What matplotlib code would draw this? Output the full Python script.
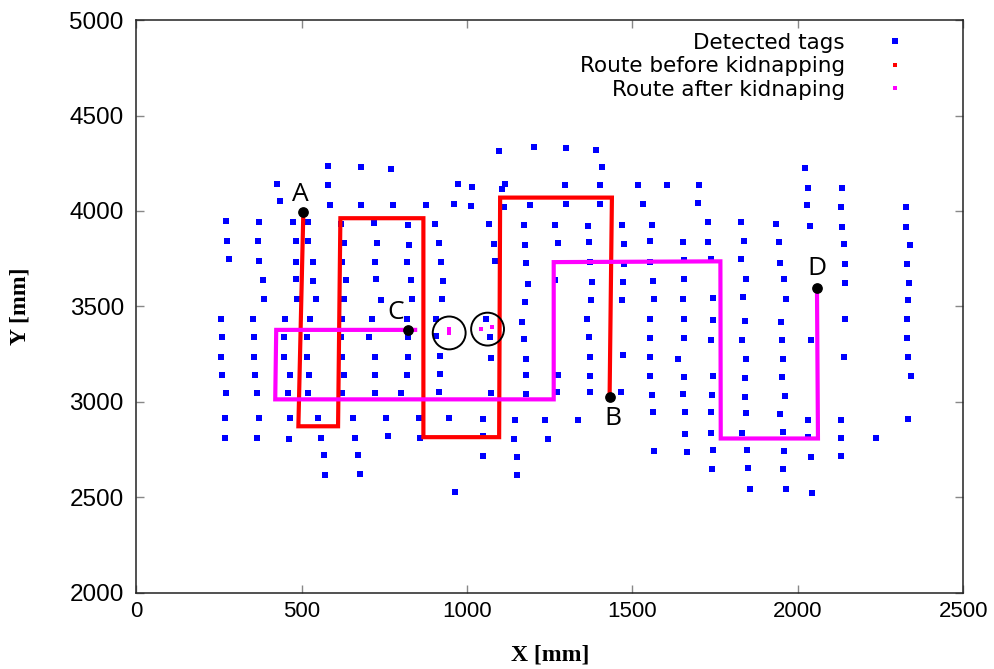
import matplotlib
matplotlib.use("Agg")
import matplotlib.pyplot as plt
from matplotlib.lines import Line2D

# detected tags [mm], read column-block by column-block
tagX = [580, 678, 771, 424, 580, 435, 587, 679, 776,
        271, 372, 474, 519, 619, 718, 820,
        274, 369, 483, 518, 627, 728, 825,
        279, 372, 483, 533, 622, 722, 817,
        384, 484, 533, 634, 725, 832,
        387, 485, 543, 629, 739, 835,
        256, 352, 451, 526, 622, 713, 817,
        259, 356, 448, 517, 619, 703, 820,
        257, 356, 448, 517, 621, 722, 822,
        260, 360, 465, 522, 627, 722, 818,
        270, 364, 459, 518, 621, 722, 801,
        269, 371, 465, 548, 656, 755, 855,
        267, 364, 463, 558, 662, 761, 857,
        566, 669, 569, 677,
        1096, 1201, 1298, 1391, 1408,
        974, 1015, 1116, 1106, 1296, 1401, 1518,
        876, 962, 1011, 1112, 1191, 1300, 1401, 1531,
        904, 1067, 1172, 1265, 1365, 1469, 1558,
        916, 1082, 1174, 1276, 1370, 1474, 1553,
        920, 1084, 1178, 1372, 1475, 1553,
        926, 1183, 1267, 1378, 1473, 1563,
        923, 1174, 1375, 1469, 1564,
        907, 1058, 1167, 1362, 1554,
        907, 1068, 1171, 1370, 1554,
        917, 1072, 1177, 1372, 1471, 1554,
        917, 1179, 1276, 1372, 1554,
        915, 1072, 1179, 1272, 1372, 1464, 1558,
        946, 1049, 1144, 1235, 1334, 1562,
        1049, 1142, 1245, 1049, 1151, 1564, 1151, 965,
        2022, 1605, 1700, 2032, 2133,
        1697, 2028, 2132, 2328,
        1729, 1829, 1934, 2038, 2133, 2327,
        1654, 1728, 1838, 1943, 2139, 2340,
        1656, 1739, 1829, 1947, 2142, 2331,
        1656, 1842, 1957, 2143, 2336,
        1653, 1745, 1834, 1963, 2333,
        1656, 1745, 1839, 1949, 2143, 2330,
        1655, 1739, 1832, 1952, 2041, 2331,
        1639, 1842, 1954, 2139, 2332,
        1655, 1745, 1839, 1952, 2343,
        1653, 1740, 1839, 1962,
        1659, 1739, 1843, 1946, 2031, 2132, 2332,
        1660, 1739, 1832, 1954, 2031, 2132, 2236,
        1664, 1743, 1845, 1957, 2041, 2132,
        1741, 1849, 1954, 1854, 1965, 2044]
tagY = [4236, 4232, 4221, 4140, 4136, 4051, 4033, 4033, 4031,
        3946, 3944, 3942, 3941, 3934, 3936, 3925,
        3841, 3843, 3841, 3841, 3831, 3831, 3824,
        3747, 3737, 3735, 3735, 3733, 3731, 3733,
        3637, 3644, 3635, 3637, 3644, 3637,
        3541, 3541, 3541, 3541, 3536, 3541,
        3435, 3435, 3435, 3435, 3435, 3435, 3435,
        3339, 3339, 3339, 3339, 3339, 3339, 3339,
        3237, 3237, 3237, 3237, 3237, 3237, 3237,
        3143, 3143, 3143, 3143, 3143, 3143, 3143,
        3045, 3045, 3045, 3045, 3045, 3045, 3045,
        2913, 2913, 2913, 2913, 2913, 2913, 2913,
        2813, 2813, 2806, 2813, 2813, 2820, 2813,
        2724, 2721, 2619, 2621,
        4313, 4333, 4328, 4321, 4230,
        4143, 4124, 4141, 4114, 4136, 4134, 4136,
        4033, 4038, 4026, 4019, 4031, 4035, 4037, 4035,
        3930, 3932, 3925, 3925, 3920, 3925, 3927,
        3831, 3827, 3820, 3831, 3838, 3829, 3841,
        3733, 3740, 3728, 3731, 3724, 3735,
        3635, 3619, 3637, 3627, 3630, 3632,
        3538, 3522, 3536, 3536, 3538,
        3435, 3433, 3420, 3433, 3433,
        3346, 3340, 3331, 3341, 3335,
        3241, 3232, 3224, 3234, 3244, 3236,
        3148, 3140, 3140, 3136, 3138,
        3054, 3047, 3043, 3052, 3049, 3049, 3035,
        2915, 2909, 2906, 2906, 2904, 2949,
        2822, 2806, 2806, 2714, 2710, 2742, 2619, 2529,
        4225, 4138, 4138, 4120, 4120,
        4040, 4031, 4022, 4019,
        3941, 3941, 3934, 3920, 3916, 3915,
        3836, 3838, 3841, 3836, 3826, 3822,
        3743, 3747, 3747, 3729, 3721, 3721,
        3642, 3642, 3642, 3621, 3625,
        3538, 3545, 3548, 3541, 3532,
        3433, 3428, 3424, 3419, 3436, 3436,
        3333, 3325, 3325, 3323, 3325, 3337,
        3225, 3227, 3227, 3236, 3234,
        3131, 3134, 3124, 3131, 3134,
        3043, 3037, 3028, 3033,
        2949, 2948, 2941, 2937, 2906, 2904, 2909,
        2831, 2836, 2838, 2841, 2818, 2812, 2813,
        2737, 2747, 2747, 2742, 2712, 2716,
        2649, 2654, 2649, 2545, 2546, 2522]

# route before kidnapping, A -> B
routeBeforeX = [505, 490, 610, 617, 868, 868, 1097, 1100, 1438, 1431]
routeBeforeY = [3995, 2872, 2872, 3962, 3962, 2815, 2815, 4070, 4070, 3028]

# route after kidnapping, C -> D
routeAfterX = [843, 423, 420, 1262, 1262, 1766, 1767, 2061, 2058]
routeAfterY = [3377, 3377, 3013, 3013, 3732, 3736, 2808, 2808, 3598]

# tags read right after the kidnapping (circled)
kidnapX = [946, 946, 1042, 1074]
kidnapY = [3380, 3360, 3384, 3391]
circleX = [946, 1062]
circleY = [3361, 3381]

# start / end points
pointNames = ["A", "B", "C", "D"]
pointX = [505, 1431, 820, 2058]
pointY = [3995, 3028, 3377, 3598]
labelOffsets = [(-3, 17), (3, -22), (-12, 17), (0, 19)]

plt.rcParams["font.family"] = ["Liberation Sans", "DejaVu Sans"]

fig = plt.figure(figsize=(9.95, 6.69), dpi=100)
ax = fig.add_axes([0.137, 0.114, 0.831, 0.856])

ax.scatter(tagX, tagY, marker="s", s=18, color="#0000ff", linewidths=0, zorder=2)
ax.plot(routeBeforeX, routeBeforeY, color="#ff0000", lw=3.0, zorder=3, solid_joinstyle="miter")
ax.plot(routeAfterX, routeAfterY, color="#ff00ff", lw=3.0, zorder=3, solid_joinstyle="miter")
ax.scatter(kidnapX, kidnapY, marker="s", s=8, color="#ff00ff", linewidths=0, zorder=4)
ax.scatter(circleX, circleY, marker="o", s=560, facecolors="none", edgecolors="black",
           linewidths=1.4, zorder=4)

ax.scatter(pointX, pointY, marker="o", s=45, color="black", zorder=5)
for name, px, py, off in zip(pointNames, pointX, pointY, labelOffsets):
    ax.annotate(name, (px, py), xytext=off, textcoords="offset pixels",
                ha="center", va="center", fontsize=19, family=["Open Sans", "DejaVu Sans"],
                zorder=6)

ax.set_xlim(0, 2500)
ax.set_ylim(2000, 5000)
ax.set_xticks([0, 500, 1000, 1500, 2000, 2500])
ax.set_yticks([2000, 2500, 3000, 3500, 4000, 4500, 5000])

ax.tick_params(axis="both", direction="in", length=6, width=1.0, color="#888888",
               top=True, right=True)
ax.tick_params(axis="y", labelsize=17.5, pad=9)
ax.tick_params(axis="x", labelsize=16, pad=6)
for sp in ax.spines.values():
    sp.set_linewidth(1.1)
    sp.set_color("#222222")

ax.set_xlabel("X [mm]", fontsize=17, family="Liberation Serif", fontweight="bold", labelpad=16)
ax.set_ylabel("Y [mm]", fontsize=17, family="Liberation Serif", fontweight="bold", labelpad=28)

# gnuplot style key: right aligned text, point sample on the right
handles = [Line2D([], [], ls="none", marker="s", ms=4.5, color="#0000ff", mew=0),
           Line2D([], [], ls="none", marker="s", ms=3, color="#ff0000", mew=0),
           Line2D([], [], ls="none", marker="s", ms=3, color="#ff00ff", mew=0)]
labels = ["Detected tags", "Route before kidnapping", "Route after kidnaping"]
leg = ax.legend(handles, labels, loc="upper right", bbox_to_anchor=(0.931, 0.978), frameon=False,
                markerfirst=False, handlelength=1.0, handletextpad=1.84,
                labelspacing=0.16, borderpad=0, borderaxespad=0,
                prop={"family": "DejaVu Sans", "size": 15.5})

fig.savefig("out.png", dpi=100)
